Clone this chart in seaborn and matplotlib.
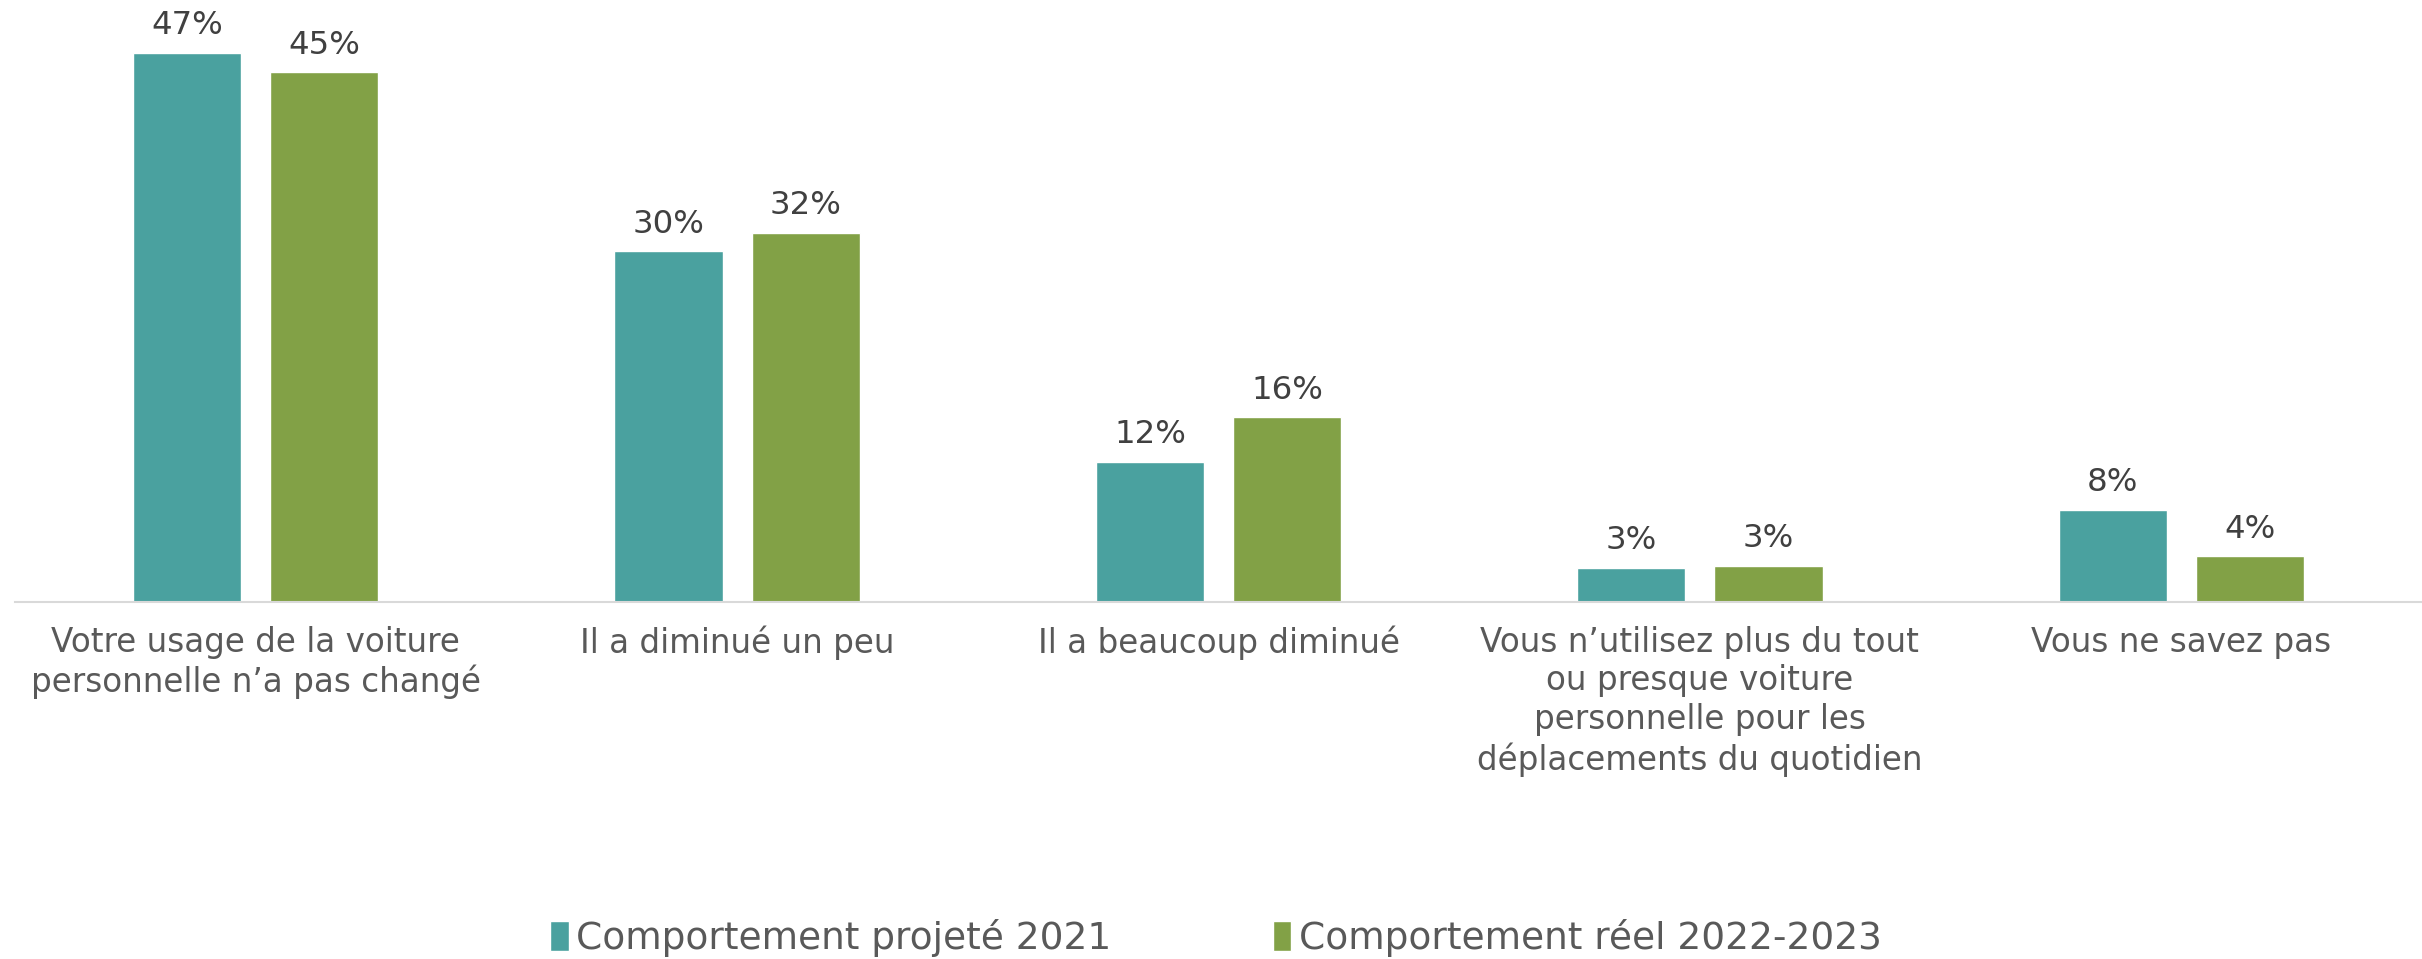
import pandas as pd
import matplotlib.pyplot as plt
import seaborn as sns

# Données
categories = [
    "Votre usage de la voiture\npersonnelle n’a pas changé",
    "Il a diminué un peu",
    "Il a beaucoup diminué",
    "Vous n’utilisez plus du tout\nou presque voiture\npersonnelle pour les\ndéplacements du quotidien",
    "Vous ne savez pas",
]
series = ["Comportement projeté 2021", "Comportement réel 2022-2023"]
projete_2021 = [47.0, 30.0, 12.0, 2.9, 7.9]
reel_2022_2023 = [45.3, 31.6, 15.8, 3.1, 3.9]
labels_2021 = ["47%", "30%", "12%", "3%", "8%"]
labels_2022 = ["45%", "32%", "16%", "3%", "4%"]
couleurs = ["#4AA19F", "#82A146"]

df = pd.DataFrame({
    "Catégorie": categories * 2,
    "Série": [series[0]] * 5 + [series[1]] * 5,
    "Valeur": projete_2021 + reel_2022_2023,
})

sns.set_theme(style="white")
plt.rcParams['font.family'] = ['DejaVu Sans']

fig = plt.figure(figsize=(24.22, 9.59), dpi=100)
ax = fig.add_axes([15 / 2422, 1 - 602 / 959, 1 - 15 / 2422, 602 / 959])

sns.barplot(data=df, x="Catégorie", y="Valeur", hue="Série", palette=couleurs,
            width=0.57, gap=0.21, saturation=1, ax=ax, legend=True)

for cont, labs in zip(ax.containers, [labels_2021, labels_2022]):
    ax.bar_label(cont, labels=labs, padding=8.5, fontsize=23.3, color="#404040")

ax.set_xlim(-0.5, 4.5)
ax.set_ylim(0, 51.5)
ax.set_xlabel("")
ax.set_ylabel("")
ax.set_yticks([])
ax.tick_params(axis="x", length=0, pad=17, labelsize=23.5, labelcolor="#595959")
for t in ax.get_xticklabels():
    t.set_linespacing(1.22)
for s in ["top", "left", "right"]:
    ax.spines[s].set_visible(False)
ax.spines["bottom"].set_color("#D9D9D9")
ax.spines["bottom"].set_linewidth(1.5)

handles, lbls = ax.get_legend_handles_labels()
ax.get_legend().remove()
fig.legend(handles, lbls, loc="center", bbox_to_anchor=(0.502, 0.022), ncol=2,
           frameon=False, fontsize=27, labelcolor="#595959",
           handlelength=0.5, handleheight=0.85, handletextpad=0.2,
           columnspacing=4.3)

fig.savefig("out.png", dpi=100)
